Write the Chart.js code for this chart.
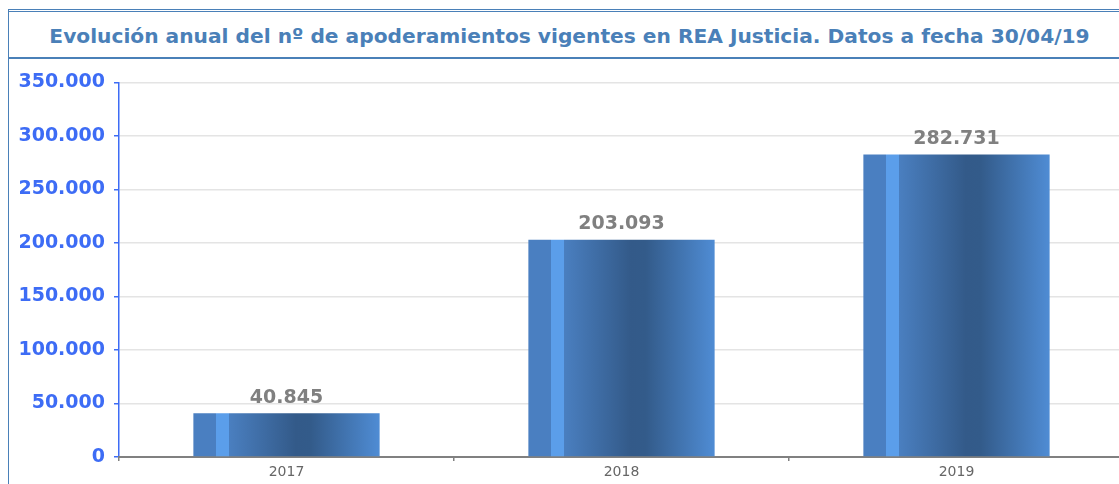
<!DOCTYPE html>
<html>
<head>
<meta charset="utf-8">
<script src="https://cdn.jsdelivr.net/npm/chart.js@4/dist/chart.umd.min.js"></script>
<style>
  html, body { margin: 0; padding: 0; background: #fff; overflow: hidden; }
  body { width: 1119px; height: 484px; position: relative; }
  #frame {
    position: absolute; left: 8px; top: 9px; width: 1122px; height: 490px;
    border-left: 1.5px solid #4a80b8; border-top: 3px double #4a80b8;
    box-sizing: border-box;
  }
  #title {
    height: 45px; line-height: 48px; text-align: center;
    border-bottom: 2px solid #4a80b8;
    font-family: "DejaVu Sans", sans-serif; font-weight: bold; font-size: 20.2px;
    color: #4a80b8;
  }
  #wrap { position: absolute; left: 2px; top: 50px; width: 1113px; height: 423px; }
</style>
</head>
<body>
<div id="frame">
  <div id="title">Evolución anual del nº de apoderamientos vigentes en REA Justicia. Datos a fecha 30/04/19</div>
  <div id="wrap"><canvas id="chart"></canvas></div>
</div>
<script>
/* ── Datos ─────────────────────────────────────── */
const years = ["2017", "2018", "2019"];
const apoderamientos = [40845, 203093, 282731];
const yMax = 350000;
const yStep = 50000;

function fmt(n) {
  return String(n).replace(/\B(?=(\d{3})+(?!\d))/g, ".");
}

/* ── Degradado de las barras ───────────────────── */
function barGradient(context) {
  const chart = context.chart;
  const xScale = chart.scales.x;
  if (!chart.chartArea || !xScale) return "#4a7fc1";
  const w = (xScale.width / years.length) * 0.556;
  const cx = xScale.getPixelForValue(context.dataIndex);
  const x0 = cx - w / 2;
  const g = chart.ctx.createLinearGradient(x0, 0, x0 + w, 0);
  g.addColorStop(0, "#4a7fc1");
  g.addColorStop(0.119, "#4a7fc1");
  g.addColorStop(0.12, "#5b9eea");
  g.addColorStop(0.19, "#5b9eea");
  g.addColorStop(0.191, "#4a7fc0");
  g.addColorStop(0.55, "#335a89");
  g.addColorStop(0.63, "#335b8a");
  g.addColorStop(1, "#4f8cd4");
  return g;
}

/* ── Etiquetas de valor ────────────────────────── */
const valueLabels = {
  id: "valueLabels",
  afterDatasetsDraw(chart) {
    const ctx = chart.ctx;
    const meta = chart.getDatasetMeta(0);
    ctx.save();
    ctx.font = "bold 19px 'DejaVu Sans'";
    ctx.fillStyle = "#808080";
    ctx.textAlign = "center";
    ctx.textBaseline = "bottom";
    meta.data.forEach((bar, i) => {
      ctx.fillText(fmt(apoderamientos[i]), bar.x, bar.y - 6);
    });
    ctx.restore();
  },
};

const chart = new Chart(document.getElementById("chart"), {
  type: "bar",
  data: {
    labels: years,
    datasets: [
      {
        label: "Apoderamientos",
        data: apoderamientos,
        backgroundColor: barGradient,
        borderWidth: 0,
        categoryPercentage: 1,
        barPercentage: 0.556,
      },
    ],
  },
  options: {
    responsive: true,
    maintainAspectRatio: false,
    animation: false,
    layout: { padding: { top: 19, right: 0, left: 0, bottom: 0 } },
    scales: {
      y: {
        min: 0,
        max: yMax,
        afterFit: (s) => { s.width = 108; },
        ticks: {
          stepSize: yStep,
          color: "#3d6cf5",
          font: { family: "DejaVu Sans", size: 19, weight: "bold" },
          padding: 9,
          callback: (v) => fmt(v),
        },
        grid: { color: "#e4e4e4", lineWidth: 1.5, tickColor: "#3d6cf5", tickLength: 5 },
        border: { color: "#3d6cf5", width: 1.5 },
      },
      x: {
        afterFit: (s) => { s.height = 28; },
        ticks: {
          color: "#666666",
          font: { family: "DejaVu Sans", size: 14 },
          padding: 3,
        },
        grid: { drawOnChartArea: false, tickColor: "#808080", tickLength: 4, lineWidth: 1.5 },
        border: { color: "#808080", width: 2 },
      },
    },
    plugins: {
      legend: { display: false },
      tooltip: { enabled: false },
    },
  },
  plugins: [valueLabels],
});
</script>
</body>
</html>
